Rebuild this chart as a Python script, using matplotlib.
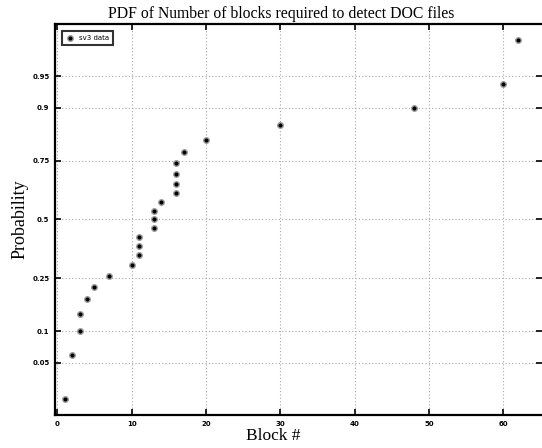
import numpy as np
import matplotlib
matplotlib.use("Agg")
import matplotlib.pyplot as plt
from statistics import NormalDist

# block numbers (sorted) and their plotted probabilities
blocks = [1, 2, 3, 3, 4, 5, 7, 10, 11, 11, 11, 13, 13, 13, 14,
          16, 16, 16, 16, 17, 20, 30, 48, 60, 62]
probs = [0.02, 0.06, 0.10, 0.14, 0.18, 0.22, 0.26, 0.30, 0.34, 0.38,
         0.42, 0.46, 0.50, 0.54, 0.58, 0.62, 0.66, 0.70, 0.74, 0.78,
         0.82, 0.86, 0.90, 0.94, 0.98]
ytick_vals = [0.05, 0.1, 0.25, 0.5, 0.75, 0.9, 0.95]
ytick_labels = ["0.05", "0.1", "0.25", "0.5", "0.75", "0.9", "0.95"]
xtick_vals = [0, 10, 20, 30, 40, 50, 60]

nd = NormalDist()
_ppf = np.vectorize(lambda p: nd.inv_cdf(min(max(p, 1e-9), 1 - 1e-9)),
                    otypes=[float])
_cdf = np.vectorize(nd.cdf, otypes=[float])


def fwd(p):
    return _ppf(np.asarray(p, dtype=float))


def inv(z):
    return _cdf(np.asarray(z, dtype=float))


fig = plt.figure(figsize=(5.42, 4.48), dpi=100)
ax = fig.add_axes([0.1015, 0.0737, 0.8985, 0.8727])

ax.plot(blocks, probs, linestyle="none", marker="o", markersize=4,
        markerfacecolor="black", markeredgecolor="#a0a0a0",
        markeredgewidth=1.0, label="sv3 data")

ax.set_yscale("function", functions=(fwd, inv))
ax.set_ylim(0.0125, 0.9875)
ax.set_xlim(-0.3, 65.2)

ax.set_yticks(ytick_vals)
ax.set_yticklabels(ytick_labels)
ax.set_xticks(xtick_vals)
ax.minorticks_off()

ax.grid(True, linestyle=(0, (1, 2)), color="#a8a8a8", linewidth=0.8)
ax.tick_params(direction="in", length=4, width=1.2, labelsize=5,
               top=True, right=True, pad=4)
for lbl in ax.get_xticklabels() + ax.get_yticklabels():
    lbl.set_fontweight("bold")

for side in ["left", "bottom", "top"]:
    ax.spines[side].set_linewidth(1.6)
ax.spines["right"].set_visible(False)

serif = "Liberation Serif"
ax.set_title("PDF of Number of blocks required to detect DOC files",
             fontsize=11.3, family=serif, pad=4, x=0.464)
ax.set_xlabel("Block #", fontsize=12.5, family=serif, labelpad=0)
ax.xaxis.set_label_coords(0.448, -0.033, transform=ax.transAxes)
ax.xaxis.label.set_va("top")
ax.set_ylabel("Probability", fontsize=13, family=serif)
ax.yaxis.set_label_coords(-0.055, 0.5, transform=ax.transAxes)

leg = ax.legend(loc="upper left", fontsize=5, frameon=True, fancybox=False,
                handlelength=1.0, borderpad=0.6, borderaxespad=1.0)
leg.get_frame().set_edgecolor("black")
leg.get_frame().set_linewidth(1.5)

fig.savefig("out.png", dpi=100)
